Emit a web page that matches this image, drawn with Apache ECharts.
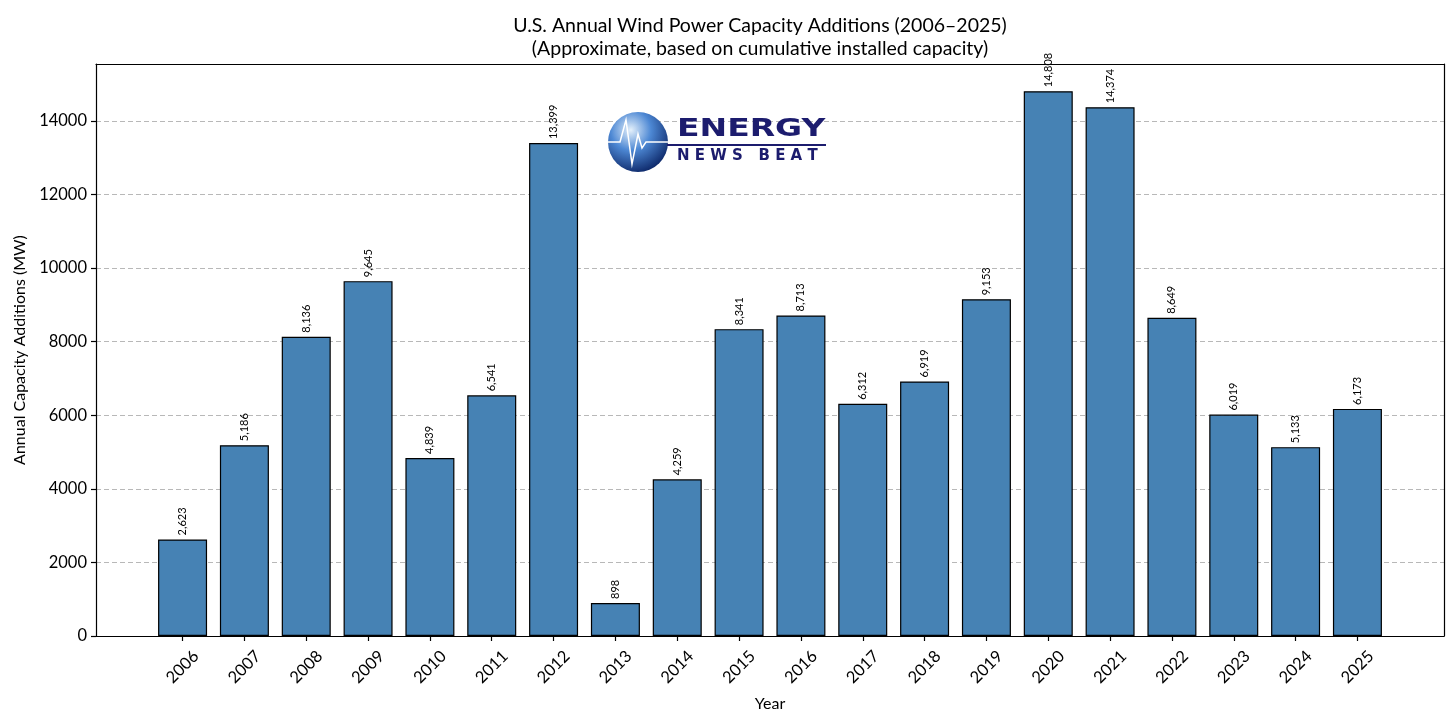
<!DOCTYPE html>
<html>
<head>
<meta charset="utf-8">
<script src="https://cdn.jsdelivr.net/npm/echarts@6/dist/echarts.min.js"></script>
<style>
  html, body { margin: 0; padding: 0; background: #fff; }
  #chart { width: 1456px; height: 724px; }
</style>
</head>
<body>
<div id="chart"></div>
<script>
const years = ["2006","2007","2008","2009","2010","2011","2012","2013","2014","2015",
               "2016","2017","2018","2019","2020","2021","2022","2023","2024","2025"];
const additions = [2623, 5186, 8136, 9645, 4839, 6541, 13399, 898, 4259, 8341,
                   8713, 6312, 6919, 9153, 14808, 14374, 8649, 6019, 5133, 6173];
const yTicks = [0, 2000, 4000, 6000, 8000, 10000, 12000, 14000];

const FONT = "Lato";
const fmt = v => v.toLocaleString("en-US");

const chart = echarts.init(document.getElementById("chart"));

chart.setOption({
  animation: false,
  textStyle: { fontFamily: FONT, color: "#000" },
  title: {
    text: "U.S. Annual Wind Power Capacity Additions (2006–2025)\n(Approximate, based on cumulative installed capacity)",
    left: 755, top: 9, textAlign: "center",
    textStyle: { fontFamily: FONT, fontSize: 19.5, fontWeight: "normal", color: "#000", lineHeight: 23 }
  },
  grid: { left: 96, right: 12, top: 64, bottom: 88 },
  xAxis: [{
    type: "value",
    min: -1.4, max: 20.4,
    name: "Year", nameLocation: "middle", nameGap: 60,
    nameTextStyle: { fontSize: 16, color: "#000" },
    axisLine: { show: true, onZero: false, lineStyle: { color: "#000", width: 1.2 } },
    axisTick: { show: true, length: 5, customValues: years.map((y, i) => i), lineStyle: { color: "#000", width: 1.2 } },
    axisLabel: {
      customValues: years.map((y, i) => i),
      formatter: v => years[v] || "",
      rotate: 45, align: "center", verticalAlign: "middle", margin: 31,
      fontSize: 16.5, color: "#000"
    },
    splitLine: { show: false }
  }, {
    type: "value", position: "top", min: -1.4, max: 20.4,
    axisLine: { show: true, onZero: false, lineStyle: { color: "#000", width: 1.2 } },
    axisTick: { show: false }, axisLabel: { show: false }, splitLine: { show: false }
  }],
  yAxis: [{
    type: "value",
    min: 0, max: 15548,
    name: "Annual Capacity Additions (MW)", nameLocation: "middle", nameGap: 66,
    nameTextStyle: { fontSize: 16, color: "#000" },
    axisLine: { show: true, onZero: false, lineStyle: { color: "#000", width: 1.2 } },
    axisTick: { show: true, length: 5, customValues: yTicks, lineStyle: { color: "#000", width: 1.2 } },
    axisLabel: { customValues: yTicks, formatter: v => String(v), fontSize: 16.5, color: "#000", margin: 9 },
    splitLine: { show: true, lineStyle: { color: "#b8b8b8", type: [5, 3], width: 1 } }
  }, {
    type: "value", position: "right", min: 0, max: 15548,
    axisLine: { show: true, onZero: false, lineStyle: { color: "#000", width: 1.2 } },
    axisTick: { show: false }, axisLabel: { show: false }, splitLine: { show: false }
  }],
  // watermark logo
  graphic: [
    {
      type: "circle", x: 638, y: 142, z: 5,
      shape: { cx: 0, cy: 0, r: 30 },
      style: {
        fill: new echarts.graphic.RadialGradient(0.38, 0.3, 0.75, [
          { offset: 0, color: "#e4f0fb" },
          { offset: 0.45, color: "#4d88d4" },
          { offset: 1, color: "#0b2566" }
        ])
      }
    },
    {
      type: "polyline", x: 608, y: 142, z: 6,
      shape: { points: [[0, 0], [12, 0], [18, -22], [24, 22], [30, -8], [34, 6], [38, 0], [60, 0]] },
      style: { stroke: "#ffffff", lineWidth: 1.5, fill: null }
    },
    {
      type: "text", x: 677, y: 117, z: 5, scaleX: 1.32,
      style: { text: "ENERGY", font: "bold 25px 'DejaVu Sans'", fill: "#1c1c6e" }
    },
    {
      type: "rect", x: 667, y: 144, z: 5,
      shape: { width: 159, height: 2 }, style: { fill: "#1c1c6e" }
    },
    {
      type: "text", x: 677, y: 149, z: 5,
      style: { text: "N E W S   B E A T", font: "bold 15px 'DejaVu Sans'", fill: "#1c1c6e" }
    }
  ],
  series: [{
    type: "bar",
    xAxisIndex: 0, yAxisIndex: 0,
    data: additions.map((v, i) => [i, v]),
    barWidth: 49,
    itemStyle: { color: "#4682B4", borderColor: "#000", borderWidth: 1.2 },
    label: {
      show: true, position: "top", rotate: 90, align: "left", verticalAlign: "middle",
      distance: 4, fontSize: 11, color: "#000",
      formatter: p => fmt(p.value[1])
    }
  }]
});
</script>
</body>
</html>
